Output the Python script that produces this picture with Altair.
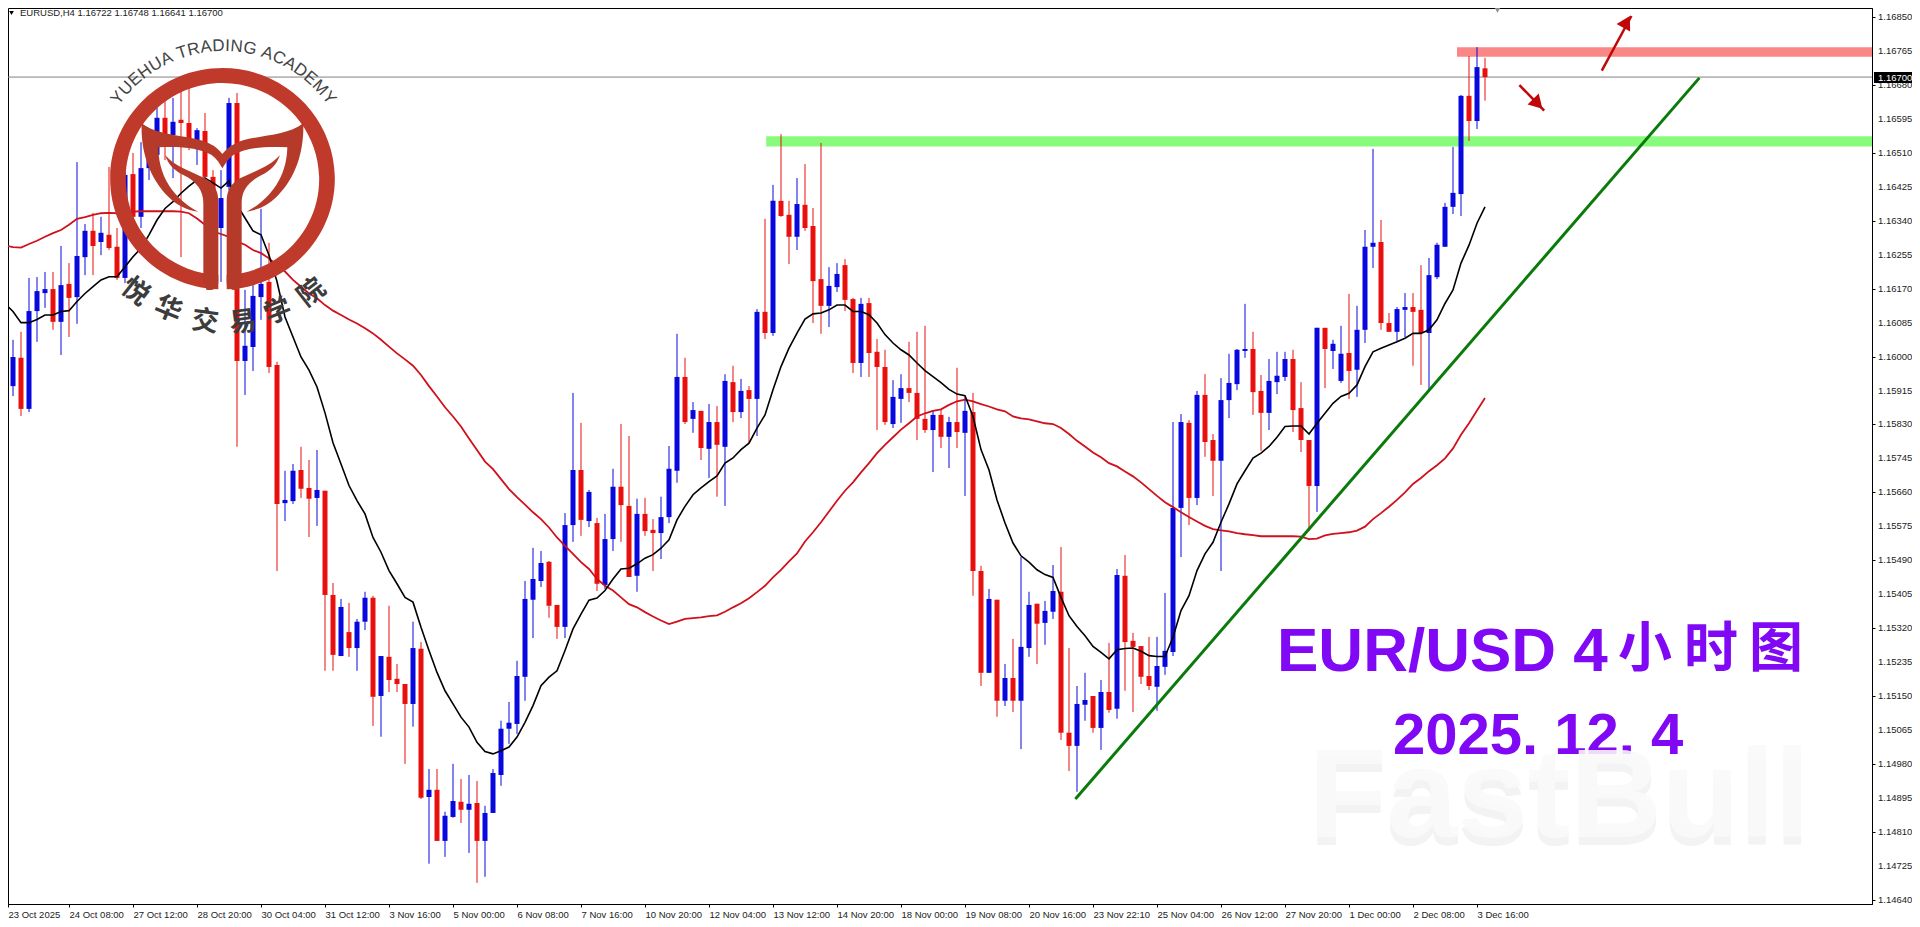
import math

import altair as alt
import pandas as pd

# EURUSD H4 candles, prices in points (1/100000), one value per bar
opens = [
    116072, 115926, 115997, 115869, 116114, 116159, 116169, 116087, 116182, 116149,
    116249, 116315, 116287, 116305, 116275, 116197, 116457, 116350, 116472, 116505,
    116598, 116555, 116593, 116585, 116542, 116565, 116450, 116322, 116425, 116635,
    115989, 116024, 116149, 116187, 115979, 115633, 115638, 115716, 115671, 115646,
    115664, 115403, 115250, 115310, 115270, 115336, 115396, 115150, 115248, 115193,
    115180, 115130, 115268, 114897, 114915, 114787, 114847, 114885, 114865, 114882,
    114787, 114857, 114952, 115068, 115080, 115198, 115391, 115438, 115486, 115378,
    115323, 115578, 115716, 115588, 115583, 115428, 115543, 115674, 115626, 115451,
    115606, 115566, 115558, 115598, 115714, 115949, 115844, 115864, 115769, 115836,
    115774, 115936, 115861, 115916, 115894, 116112, 116059, 116390, 116355, 116300,
    116380, 116327, 116194, 116127, 116174, 116229, 116144, 115984, 116134, 116012,
    115974, 115831, 115894, 115921, 115909, 115844, 115816, 115854, 115799, 115836,
    115809, 115861, 115463, 115208, 115391, 115138, 115195, 115138, 115270, 115381,
    115333, 115361, 115411, 115058, 115025, 115128, 115150, 115070, 115160, 115118,
    115451, 115288, 115275, 115200, 115173, 115223, 115260, 115621, 115834, 115646,
    115904, 115791, 115739, 115891, 115931, 116014, 116019, 115914, 115859, 115936,
    115949, 115994, 115871, 115791, 115676, 116072, 116014, 115939, 116009, 115967,
    116067, 116275, 116287, 116084, 116062, 116117, 116124, 116117, 116059, 116199,
    116275, 116375, 116407, 116653, 116590, 116722,
]
highs = [
    116079, 116042, 116062, 116197, 116199, 116212, 116212, 116277, 116234, 116487,
    116332, 116360, 116350, 116475, 116322, 116467, 116510, 116537, 116542, 116623,
    116650, 116648, 116663, 116673, 116572, 116610, 116467, 116467, 116648, 116660,
    116167, 116179, 116370, 116285, 115987, 115714, 115731, 115774, 115741, 115766,
    115664, 115433, 115393, 115383, 115343, 115411, 115401, 115250, 115376, 115230,
    115180, 115336, 115285, 114967, 114967, 114860, 114980, 114942, 114952, 114937,
    114875, 114967, 115088, 115135, 115238, 115438, 115521, 115513, 115488, 115378,
    115608, 115909, 115834, 115666, 115596, 115606, 115719, 115831, 115801, 115644,
    115646, 115593, 115649, 115776, 116057, 115997, 115886, 115864, 115881, 115876,
    115956, 115977, 115944, 115926, 116119, 116345, 116430, 116557, 116390, 116447,
    116482, 116372, 116535, 116224, 116234, 116244, 116147, 116147, 116147, 116044,
    116017, 115941, 115956, 116037, 116062, 116077, 115866, 115869, 115849, 115972,
    115899, 115909, 115476, 115418, 115391, 115230, 115293, 115498, 115411, 115381,
    115388, 115478, 115523, 115270, 115175, 115208, 115150, 115190, 115283, 115468,
    115503, 115308, 115275, 115298, 115298, 115408, 115836, 115856, 115841, 115914,
    115956, 115806, 115946, 116007, 116019, 116132, 116062, 115954, 115994, 116012,
    116012, 116017, 115936, 115791, 116072, 116072, 116042, 116077, 116157, 116127,
    116317, 116520, 116342, 116109, 116124, 116159, 116159, 116229, 116247, 116285,
    116385, 116525, 116655, 116753, 116775, 116748,
]
lows = [
    115916, 115901, 115851, 115861, 116037, 116122, 116067, 116004, 116049, 116082,
    116204, 116204, 116254, 116267, 116192, 116184, 116347, 116322, 116442, 116500,
    116492, 116447, 116249, 116517, 116480, 116430, 116305, 116187, 116417, 115774,
    115904, 115964, 116092, 115959, 115463, 115588, 115631, 115646, 115548, 115576,
    115213, 115213, 115250, 115248, 115213, 115315, 115075, 115048, 115160, 115160,
    114980, 115073, 114892, 114730, 114787, 114747, 114845, 114832, 114757, 114682,
    114697, 114857, 114925, 115030, 115055, 115138, 115295, 115423, 115346, 115293,
    115295, 115536, 115551, 115573, 115413, 115418, 115513, 115536, 115448, 115411,
    115551, 115463, 115493, 115583, 115684, 115831, 115809, 115741, 115696, 115649,
    115626, 115836, 115846, 115784, 115801, 116044, 116052, 116350, 116232, 116267,
    116315, 116084, 116057, 116074, 116162, 116114, 115959, 115949, 115949, 115816,
    115829, 115821, 115834, 115886, 115791, 115809, 115711, 115771, 115721, 115771,
    115651, 115401, 115175, 115208, 115098, 115125, 115110, 115017, 115248, 115230,
    115278, 115343, 115040, 114962, 114910, 115088, 115058, 115015, 115108, 115093,
    115163, 115110, 115180, 115165, 115113, 115203, 115250, 115498, 115578, 115628,
    115749, 115651, 115463, 115846, 115916, 115997, 115854, 115764, 115816, 115906,
    115939, 115811, 115761, 115563, 115611, 115921, 115969, 115934, 115894, 115899,
    116034, 116222, 116067, 116062, 116037, 116049, 115977, 115929, 115916, 116194,
    116275, 116357, 116352, 116540, 116570, 116641,
]
closes = [
    115921, 115999, 115869, 116114, 116164, 116169, 116087, 116179, 116147, 116252,
    116315, 116277, 116310, 116272, 116197, 116455, 116350, 116472, 116505, 116598,
    116555, 116588, 116585, 116542, 116567, 116450, 116322, 116397, 116635, 115989,
    116027, 116152, 116182, 115974, 115631, 115641, 115714, 115669, 115644, 115666,
    115403, 115253, 115373, 115270, 115336, 115396, 115148, 115250, 115190, 115180,
    115130, 115270, 114895, 114915, 114787, 114850, 114887, 114865, 114880, 114787,
    114857, 114957, 115068, 115083, 115200, 115393, 115443, 115483, 115376, 115323,
    115578, 115716, 115591, 115661, 115431, 115543, 115674, 115628, 115448, 115606,
    115563, 115558, 115598, 115719, 115949, 115836, 115866, 115771, 115836, 115779,
    115939, 115861, 115914, 115894, 116112, 116059, 116390, 116352, 116300, 116382,
    116322, 116189, 116127, 116177, 116207, 116142, 115984, 116132, 116009, 115974,
    115836, 115899, 115921, 115909, 115844, 115816, 115854, 115799, 115836, 115811,
    115864, 115463, 115208, 115393, 115138, 115195, 115138, 115273, 115378, 115331,
    115363, 115413, 115058, 115025, 115130, 115140, 115070, 115160, 115115, 115453,
    115285, 115273, 115198, 115175, 115225, 115263, 115621, 115836, 115646, 115904,
    115786, 115739, 115891, 115934, 116017, 116019, 115911, 115859, 115939, 115952,
    115994, 115866, 115791, 115676, 116072, 116019, 116032, 116007, 115964, 116067,
    116275, 116285, 116084, 116062, 116119, 116124, 116112, 116059, 116204, 116280,
    116375, 116410, 116653, 116590, 116725, 116700,
]

# black fast average and red slow average, one value per bar
ma_fast = [
    116132, 116113, 116085, 116085, 116093, 116104, 116104, 116113, 116115, 116138,
    116158, 116175, 116192, 116200, 116200, 116225, 116250, 116271, 116305, 116342,
    116371, 116388, 116409, 116427, 116442, 116447, 116435, 116422, 116440, 116380,
    116347, 116315, 116305, 116254, 116188, 116099, 116049, 115999, 115966, 115924,
    115859, 115784, 115731, 115677, 115639, 115606, 115547, 115510, 115464, 115431,
    115397, 115385, 115322, 115264, 115209, 115163, 115130, 115097, 115072, 115034,
    115011, 115005, 115013, 115022, 115047, 115084, 115126, 115176, 115197, 115213,
    115264, 115318, 115355, 115390, 115395, 115414, 115443, 115468, 115470, 115481,
    115495, 115504, 115520, 115541, 115591, 115625, 115654, 115671, 115687, 115701,
    115733, 115746, 115767, 115783, 115821, 115854, 115917, 115975, 116021, 116059,
    116094, 116107, 116109, 116117, 116129, 116129, 116113, 116113, 116105, 116084,
    116055, 116034, 116017, 116004, 115984, 115965, 115950, 115935, 115918, 115906,
    115902, 115850, 115767, 115716, 115641, 115583, 115533, 115501, 115485, 115466,
    115454, 115447, 115397, 115351, 115324, 115301, 115274, 115259, 115243, 115266,
    115269, 115270, 115262, 115251, 115249, 115249, 115297, 115364, 115401, 115464,
    115506, 115535, 115585, 115631, 115681, 115714, 115746, 115758, 115775, 115798,
    115825, 115826, 115826, 115806, 115833, 115858, 115883, 115900, 115908, 115929,
    115975, 116012, 116021, 116029, 116037, 116046, 116058, 116058, 116067, 116092,
    116133, 116167, 116234, 116279, 116334, 116375,
]
ma_slow = [
    116278, 116274, 116273, 116282, 116290, 116300, 116309, 116317, 116330, 116345,
    116349, 116355, 116359, 116360, 116359, 116362, 116363, 116364, 116364, 116364,
    116364, 116364, 116363, 116359, 116346, 116330, 116313, 116307, 116300, 116288,
    116280, 116267, 116259, 116246, 116229, 116213, 116192, 116175, 116158, 116146,
    116129, 116115, 116104, 116093, 116083, 116071, 116058, 116042, 116025, 116008,
    115993, 115977, 115954, 115926, 115900, 115873, 115850, 115825, 115795, 115766,
    115737, 115718, 115693, 115668, 115648, 115629, 115610, 115593, 115572, 115547,
    115526, 115506, 115485, 115468, 115443, 115426, 115414, 115397, 115380, 115372,
    115360, 115349, 115339, 115330, 115336, 115343, 115345, 115347, 115350, 115352,
    115361, 115372, 115382, 115395, 115410, 115426, 115447, 115466, 115487, 115507,
    115537, 115560, 115585, 115612, 115639, 115664, 115685, 115710, 115733, 115758,
    115779, 115798, 115817, 115833, 115850, 115858, 115864, 115868, 115879, 115888,
    115892, 115888, 115881, 115875, 115868, 115863, 115850, 115845, 115843, 115838,
    115833, 115831, 115821, 115806, 115789, 115775, 115760, 115748, 115733, 115725,
    115712, 115700, 115685, 115668, 115651, 115635, 115623, 115610, 115598, 115587,
    115576, 115568, 115565, 115562, 115558, 115555, 115553, 115550, 115550, 115550,
    115550, 115550, 115549, 115543, 115544, 115552, 115556, 115558, 115560, 115564,
    115574, 115593, 115608, 115624, 115641, 115660, 115681, 115696, 115713, 115728,
    115745, 115770, 115804, 115833, 115865, 115896,
]

time_labels = [
    "23 Oct 2025", "24 Oct 08:00", "27 Oct 12:00", "28 Oct 20:00", "30 Oct 04:00",
    "31 Oct 12:00", "3 Nov 16:00", "5 Nov 00:00", "6 Nov 08:00", "7 Nov 16:00",
    "10 Nov 20:00", "12 Nov 04:00", "13 Nov 12:00", "14 Nov 20:00", "18 Nov 00:00",
    "19 Nov 08:00", "20 Nov 16:00", "23 Nov 22:10", "25 Nov 04:00", "26 Nov 12:00",
    "27 Nov 20:00", "1 Dec 00:00", "2 Dec 08:00", "3 Dec 16:00",
]
price_ticks = [
    1.14640, 1.14725, 1.14810, 1.14895, 1.14980, 1.15065, 1.15150, 1.15235, 1.15320,
    1.15405, 1.15490, 1.15575, 1.15660, 1.15745, 1.15830, 1.15915, 1.16000, 1.16085,
    1.16170, 1.16255, 1.16340, 1.16425, 1.16510, 1.16595, 1.16680, 1.16765, 1.16850,
]

last_price = 1.16700
resistance_zone = [1.16751, 1.16775]
support_zone = [1.16526, 1.16552]
trend_bars = [133.8, 211.8]
trend_prices = [1.14892, 1.16698]
up_arrow_bars = [199.6, 203.3]
up_arrow_prices = [1.16716, 1.16853]
down_arrow_bars = [189.3, 192.4]
down_arrow_prices = [1.16680, 1.16616]

BLUE = "#0808dc"
RED = "#e8100c"
PURPLE = "#8008f4"
ARROW = "#c00808"
LOGO = "#c03a2b"

# the page margin is 8px, pixel positions below are page positions
PAGE = 8
X_MIN, X_MAX = 0.375, 233.375
Y_MIN, Y_MAX = 1.14629, 1.16873
x_scale = alt.Scale(domain=[X_MIN, X_MAX], nice=False, zero=False, padding=0)
y_scale = alt.Scale(domain=[Y_MIN, Y_MAX], nice=False, zero=False, padding=0)

bars = pd.DataFrame(
    {
        "bar": range(len(opens)),
        "open": [v / 1e5 for v in opens],
        "high": [v / 1e5 for v in highs],
        "low": [v / 1e5 for v in lows],
        "close": [v / 1e5 for v in closes],
        "fast": [v / 1e5 for v in ma_fast],
        "slow": [v / 1e5 for v in ma_slow],
    }
)
bars["side"] = ["up" if c >= o else "down" for o, c in zip(bars["open"], bars["close"])]
side_color = alt.Color(
    "side:N", scale=alt.Scale(domain=["up", "down"], range=[BLUE, RED]), legend=None
)


def X(field):
    return alt.X(field, type="quantitative", scale=x_scale, title=None)


def Y(field):
    return alt.Y(field, type="quantitative", scale=y_scale, title=None)


def page_x(px):
    return alt.value(px - PAGE)


def page_y(py):
    return alt.value(py - PAGE)


def note(text, px, py, **style):
    return alt.Chart(bars.head(1)).mark_text(text=text, **style).encode(x=page_x(px), y=page_y(py))


def path_line(xs, ys, color, width):
    data = pd.DataFrame({"bar": xs, "price": ys, "n": range(len(xs))})
    return (
        alt.Chart(data)
        .mark_line(color=color, strokeWidth=width, clip=True)
        .encode(x=X("bar"), y=Y("price"), order="n:Q")
    )


def zone(start, prices, color):
    data = pd.DataFrame({"a": [start], "b": [X_MAX], "lo": [prices[0]], "hi": [prices[1]]})
    return (
        alt.Chart(data)
        .mark_rect(color=color)
        .encode(x=X("a"), x2="b", y=Y("lo"), y2="hi")
    )


label_list = ",".join("'%s'" % t for t in time_labels)
wicks = (
    alt.Chart(bars)
    .mark_rule(strokeWidth=1, clip=True)
    .encode(
        x=alt.X(
            "bar:Q",
            scale=x_scale,
            title=None,
            axis=alt.Axis(
                values=[X_MIN] + [8 * k for k in range(1, len(time_labels))],
                labelExpr="[%s][round(datum.value/8)]" % label_list,
                grid=False,
                domainColor="#000000",
                tickColor="#000000",
                tickSize=3,
                labelAlign="left",
                labelBaseline="top",
                labelPadding=2,
                labelFont="Liberation Sans",
                labelFontSize=9.5,
                labelColor="#222222",
                labelOverlap=False,
                labelFlush=False,
                labelBound=False,
            ),
        ),
        y=alt.Y(
            "low:Q",
            scale=y_scale,
            title=None,
            axis=alt.Axis(
                orient="right",
                values=price_ticks,
                labels=False,
                grid=False,
                domainColor="#000000",
                tickColor="#000000",
                tickSize=3,
            ),
        ),
        y2="high:Q",
        color=side_color,
    )
)
bodies = (
    alt.Chart(bars)
    .mark_bar(size=5, clip=True)
    .encode(x=X("bar"), y=Y("open"), y2="close:Q", color=side_color)
)
fast_line = (
    alt.Chart(bars)
    .mark_line(color="#000000", strokeWidth=1.6, clip=True)
    .encode(x=X("bar"), y=Y("fast"))
)
slow_line = (
    alt.Chart(bars)
    .mark_line(color="#d0101c", strokeWidth=1.8, clip=True)
    .encode(x=X("bar"), y=Y("slow"))
)
price_line = (
    alt.Chart(pd.DataFrame({"price": [last_price]}))
    .mark_rule(color="#808080", strokeWidth=1)
    .encode(y=Y("price"))
)
price_labels = (
    alt.Chart(pd.DataFrame({"price": price_ticks, "label": ["%.5f" % p for p in price_ticks]}))
    .mark_text(font="Liberation Sans", fontSize=9.5, color="#222222", align="left", baseline="middle")
    .encode(x=page_x(1878), y=Y("price"), text="label:N")
)


def arrow_head(bar, price, angle):
    data = pd.DataFrame({"bar": [bar], "price": [price]})
    return (
        alt.Chart(data)
        .mark_point(shape="triangle-up", filled=True, size=240, angle=angle, color=ARROW, opacity=1)
        .encode(x=X("bar"), y=Y("price"))
    )


# logo drawn in a 3x grid whose origin sits at page position (100, 60)
RING = (
    "M355 688 A337 332 0 1 1 380 688 L380 645 A290 288 0 1 0 355 645 Z"
)
HORNS = (
    "M125 190 C170 225 240 225 300 240 C335 250 355 265 367 282 C380 265 400 250 432 240 "
    "C495 225 565 225 610 190 C612 270 590 350 530 410 C505 435 475 450 440 455 "
    "C490 430 560 370 562 262 C500 258 440 262 400 285 C385 295 375 312 367 325 "
    "C360 312 350 295 335 285 C295 262 235 258 175 262 C175 370 245 430 295 455 "
    "C260 450 230 435 205 410 C145 350 122 270 125 190 Z"
)
LEFT_STEM = (
    "M195 285 C225 320 275 335 315 355 C345 372 355 395 355 425 L355 665 "
    "C355 685 340 692 320 690 L300 640 L310 645 L310 430 C310 390 290 365 250 345 "
    "C225 333 205 315 195 285 Z"
)
RIGHT_STEM = (
    "M540 285 C510 320 460 335 420 355 C390 372 380 395 380 425 L380 665 "
    "C380 685 395 692 415 690 L435 640 L425 645 L425 430 C425 390 445 365 485 345 "
    "C510 333 530 315 540 285 Z"
)


def logo_part(shape, color):
    return (
        alt.Chart(bars.head(1))
        .mark_point(shape=shape, size=4 / 9, filled=True, color=color, opacity=1, strokeWidth=0)
        .encode(x=page_x(100), y=page_y(60))
    )


# curved school name above the ring
CX, CY, RADIUS = 224, 179, 133
name = "YUEHUA TRADING ACADEMY"
widths = {
    "Y": 0.667, "U": 0.722, "E": 0.667, "H": 0.722, "A": 0.667, " ": 0.278, "T": 0.611,
    "R": 0.722, "D": 0.722, "I": 0.278, "N": 0.722, "G": 0.778, "C": 0.722, "M": 0.833,
}
total = sum(widths[c] for c in name)
span = 110.0
run = 0.0
letters = []
for c in name:
    mid = run + widths[c] / 2
    run += widths[c]
    deg = (mid / total - 0.5) * span
    rad = math.radians(deg)
    letters.append(
        {
            "ch": c,
            "bar": (CX + RADIUS * math.sin(rad) - 5.5) / 8,
            "price": (116893 - 2.504 * (CY - RADIUS * math.cos(rad))) / 1e5,
            "ang": deg % 360,
        }
    )
arc_text = (
    alt.Chart(pd.DataFrame(letters))
    .mark_text(font="Liberation Sans", fontSize=17, color="#444444", baseline="middle")
    .encode(
        x=X("bar"),
        y=Y("price"),
        text="ch:N",
        angle=alt.Angle("ang:Q", scale=None),
    )
)
cn_name = ["悦", "华", "交", "易", "学", "院"]
cn_x = [135, 168, 205, 243, 278, 312]
cn_y = [292, 310, 322, 323, 312, 293]
cn_angle = [38, 22, 8, 353, 338, 322]
cn_layers = [
    note(c, x, y, font="Noto Sans CJK SC", fontWeight="bold", fontSize=27, color="#3c3c3c",
         align="center", baseline="middle", angle=a)
    for c, x, y, a in zip(cn_name, cn_x, cn_y, cn_angle)
]

chart = alt.layer(
    zone(95.15, support_zone, "#88fb7c"),
    zone(181.5, resistance_zone, "#fa8686"),
    price_line,
    wicks,
    bodies,
    slow_line,
    fast_line,
    path_line(trend_bars, trend_prices, "#0a7a0a", 3),
    path_line(up_arrow_bars, up_arrow_prices, ARROW, 2.5),
    path_line(down_arrow_bars, down_arrow_prices, ARROW, 2.5),
    arrow_head(202.7, 1.16838, 29),
    arrow_head(191.6, 1.16633, 136),
    logo_part(RING, LOGO),
    logo_part(HORNS, "#b53a2a"),
    logo_part(LEFT_STEM, "#b53a2a"),
    logo_part(RIGHT_STEM, "#b53a2a"),
    arc_text,
    *cn_layers,
    note("EUR/USD 4", 1277, 671, font="Liberation Sans", fontWeight="bold", fontSize=62,
         color=PURPLE, align="left", baseline="alphabetic"),
    note("小", 1645, 651, font="Noto Sans CJK SC", fontWeight="bold", fontSize=54, color=PURPLE,
         align="center", baseline="middle"),
    note("时", 1711, 651, font="Noto Sans CJK SC", fontWeight="bold", fontSize=54, color=PURPLE,
         align="center", baseline="middle"),
    note("图", 1776, 651, font="Noto Sans CJK SC", fontWeight="bold", fontSize=54, color=PURPLE,
         align="center", baseline="middle"),
    note("2025. 12. 4", 1393, 754, font="Liberation Sans", fontWeight="bold", fontSize=58,
         color=PURPLE, align="left", baseline="alphabetic"),
    note("FastBull", 1309, 845, font="Liberation Sans", fontWeight="bold", fontSize=127,
         color="#dddddd", opacity=0.35, align="left", baseline="alphabetic"),
    note("FastBull", 1309, 837, font="Liberation Sans", fontWeight="bold", fontSize=127,
         color="#fafafa", opacity=0.88, align="left", baseline="alphabetic"),
    note("EURUSD,H4  1.16722 1.16748 1.16641 1.16700", 20, 13, font="Liberation Sans",
         fontSize=9.5, color="#222222", align="left", baseline="middle"),
    alt.Chart(bars.head(1))
    .mark_point(shape="triangle-down", filled=True, size=22, color="#000000", opacity=1)
    .encode(x=page_x(11.5), y=page_y(13)),
    alt.Chart(bars.head(1))
    .mark_point(shape="triangle-down", filled=True, size=40, color="#909090", opacity=1)
    .encode(x=page_x(1497.5), y=page_y(10)),
    price_labels,
    alt.Chart(bars.head(1))
    .mark_rect(color="#000000")
    .encode(x=page_x(1874), x2=page_x(1912), y=page_y(72), y2=page_y(83)),
    note("1.16700", 1878, 77.5, font="Liberation Sans", fontSize=9.5, color="#ffffff",
         align="left", baseline="middle"),
).properties(
    width=1864,
    height=896,
    autosize=alt.AutoSizeParams(type="none"),
    padding={"left": 0, "top": 0, "right": 40, "bottom": 15},
).configure_view(stroke="#000000", strokeWidth=1)

chart.save("out.html", embed_options={"renderer": "svg", "actions": False})
